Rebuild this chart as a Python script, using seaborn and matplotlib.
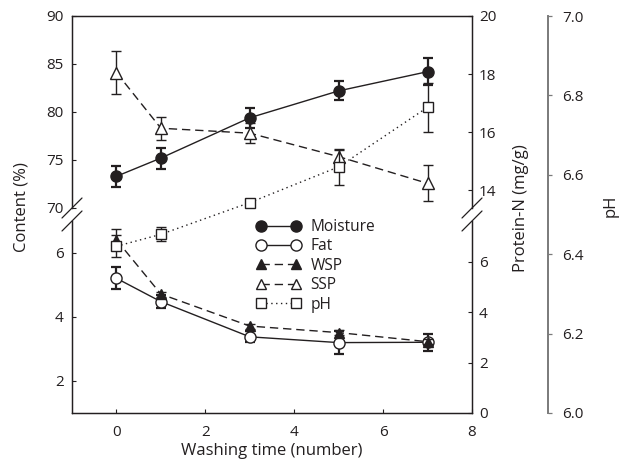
import numpy as np
import pandas as pd
import matplotlib
matplotlib.use("Agg")
import matplotlib.pyplot as plt
import seaborn as sns
from matplotlib.lines import Line2D
from matplotlib.ticker import FormatStrFormatter

# ---------------- data ----------------
washes = [0, 1, 3, 5, 7]
moisture = [73.3, 75.2, 79.4, 82.2, 84.2]
moisture_err = [1.1, 1.1, 1.05, 1.0, 1.4]
fat = [5.21, 4.48, 3.38, 3.20, 3.21]
fat_err = [0.34, 0.20, 0.17, 0.35, 0.27]
wsp = [6.87, 4.72, 3.45, 3.19, 2.83]
wsp_err = [0.42, 0.10, 0.10, 0.10, 0.10]
ssp = [18.05, 16.13, 15.96, 15.15, 14.23]
ssp_err = [0.75, 0.40, 0.35, 0.22, 0.62]
ph = [6.42, 6.45, 6.53, 6.62, 6.77]
ph_err = [0.028, 0.018, 0.008, 0.045, 0.062]

left_top_ticks = [70, 75, 80, 85, 90]
left_bot_ticks = [2, 4, 6]
right_top_ticks = [14, 16, 18, 20]
right_bot_ticks = [0, 2, 4, 6]
ph_ticks = [6.0, 6.2, 6.4, 6.6, 6.8, 7.0]
x_ticks = [0, 2, 4, 6, 8]
series_labels = ["Moisture", "Fat", "WSP", "SSP", "pH"]

ink = "#231f20"

sns.set_theme(style="ticks")
plt.rcParams["font.family"] = ["Open Sans", "DejaVu Sans"]
plt.rcParams["text.color"] = ink
plt.rcParams["axes.labelcolor"] = ink
plt.rcParams["xtick.color"] = ink
plt.rcParams["ytick.color"] = ink
plt.rcParams["axes.edgecolor"] = ink

W, H = 622, 468
fig = plt.figure(figsize=(W / 100, H / 100), dpi=100)


def rect(l, t, r, b):
    return [l / W, 1 - b / H, (r - l) / W, (b - t) / H]


ax_top = fig.add_axes(rect(72, 16, 472, 208))
ax_bot = fig.add_axes(rect(72, 221, 472, 413))
ax_top_r = ax_top.twinx()
ax_bot_r = ax_bot.twinx()
ax_ph = fig.add_axes(rect(72, 16, 472, 413))

for a in (ax_top, ax_bot, ax_top_r, ax_bot_r, ax_ph):
    a.patch.set_visible(False)
    for s in a.spines.values():
        s.set_linewidth(0.9)

# spines
ax_top.spines["bottom"].set_visible(False)
ax_top_r.spines["bottom"].set_visible(False)
ax_bot.spines["top"].set_visible(False)
ax_bot_r.spines["top"].set_visible(False)
for name in ("left", "top", "bottom"):
    ax_ph.spines[name].set_visible(False)
ax_ph.spines["right"].set_position(("axes", 1.19))
ax_ph.spines["right"].set_color("#7a7a7a")
ax_ph.spines["right"].set_linewidth(1.4)

dash_ls = (0, (6, 3.5))
dot_ls = (0, (1, 2.5))


def series(ax, y, err, marker, face, ls, err_lw, ms=7.5):
    ax.errorbar(washes, y, yerr=err, fmt="none", ecolor=ink, elinewidth=err_lw,
                capsize=3.8, capthick=err_lw, zorder=2)
    sns.lineplot(x=washes, y=y, ax=ax, color=ink, linestyle=ls, linewidth=1.0,
                 marker=marker, markersize=ms, markerfacecolor=face,
                 markeredgecolor=ink, markeredgewidth=1.0, zorder=3,
                 legend=False, errorbar=None)
    ax.set_xlabel("")
    ax.set_ylabel("")


series(ax_top, moisture, moisture_err, "o", ink, "-", 1.6, ms=8)
series(ax_bot, fat, fat_err, "o", "white", "-", 1.6, ms=8)
series(ax_bot_r, wsp, wsp_err, "^", ink, dash_ls, 1.0)
series(ax_top_r, ssp, ssp_err, "^", "white", dash_ls, 1.0, ms=8)
series(ax_ph, ph, ph_err, "s", "white", dot_ls, 1.0, ms=7.5)

# ranges
for a in (ax_top, ax_bot, ax_top_r, ax_bot_r, ax_ph):
    a.set_xlim(-1, 8)
ax_top.set_ylim(70, 90)
ax_bot.set_ylim(1, 7)
ax_top_r.set_ylim(13.38, 20)
ax_bot_r.set_ylim(0, 7.62)
ax_ph.set_ylim(6.0, 7.0)

# ticks
fs = 11
for a in (ax_top, ax_top_r, ax_bot_r, ax_ph):
    a.set_xticks([])
    a.tick_params(axis="x", bottom=False, labelbottom=False, top=False)
ax_bot.set_xticks(x_ticks)
ax_bot.tick_params(axis="x", direction="in", length=3, width=0.8, pad=9, labelsize=fs)

for a, t in ((ax_top, left_top_ticks), (ax_bot, left_bot_ticks)):
    a.set_yticks(t)
    a.tick_params(axis="y", direction="in", length=3, width=0.8, pad=6, labelsize=fs)
for a, t in ((ax_top_r, right_top_ticks), (ax_bot_r, right_bot_ticks)):
    a.set_yticks(t)
    a.tick_params(axis="y", direction="in", length=3, width=0.8, pad=5, labelsize=fs)
ax_ph.set_yticks(ph_ticks)
ax_ph.yaxis.set_major_formatter(FormatStrFormatter("%.1f"))
ax_ph.yaxis.set_ticks_position("right")
ax_ph.tick_params(axis="y", direction="out", length=3, width=0.9, pad=7,
                  labelsize=fs, color="#7a7a7a", left=False)

# labels
lfs = 12
ax_bot.set_xlabel("Washing time (number)", fontsize=lfs, labelpad=2)
fig.text(22 / W, 1 - 207 / H, "Content (%)", rotation=90, ha="center", va="center", fontsize=lfs)
fig.text(521 / W, 1 - 208 / H, "Protein-N (mg/g)", rotation=90, ha="center", va="center", fontsize=lfs)
fig.text(611 / W, 1 - 206 / H, "pH", rotation=90, ha="center", va="center", fontsize=lfs)

# break marks
for cx in (72, 472):
    for cy in (208, 221):
        fig.add_artist(Line2D([(cx - 10) / W, (cx + 10) / W],
                              [1 - (cy + 10) / H, 1 - (cy - 10) / H],
                              transform=fig.transFigure, color=ink, lw=0.9))

# legend
handles = [
    Line2D([], [], color=ink, ls="-", lw=1, marker="o", ms=8, mfc=ink, mec=ink),
    Line2D([], [], color=ink, ls="-", lw=1, marker="o", ms=8, mfc="white", mec=ink),
    Line2D([], [], color=ink, ls=dash_ls, lw=1, marker="^", ms=7.5, mfc=ink, mec=ink),
    Line2D([], [], color=ink, ls=dash_ls, lw=1, marker="^", ms=7.5, mfc="white", mec=ink),
    Line2D([], [], color=ink, ls=dot_ls, lw=1, marker="s", ms=7, mfc="white", mec=ink),
]
fig.legend(handles, series_labels, loc="upper left", bbox_to_anchor=(256 / W, 1 - 219 / H),
           frameon=False, numpoints=2, handlelength=2.9, labelspacing=0.22,
           handletextpad=0.6, fontsize=11.2, borderaxespad=0, borderpad=0)

fig.savefig("out.png", dpi=100)
